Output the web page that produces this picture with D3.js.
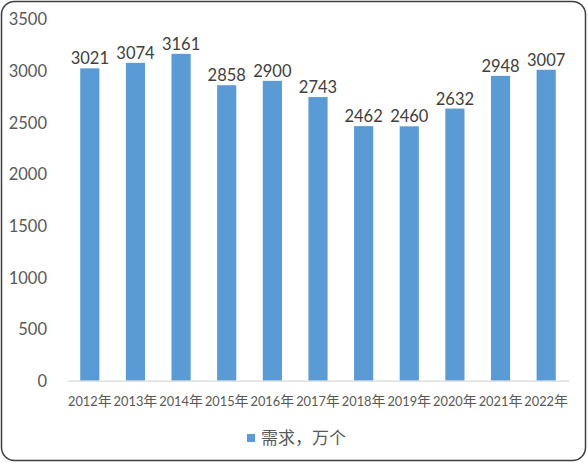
<!DOCTYPE html>
<html>
<head>
<meta charset="utf-8">
<script src="https://cdn.jsdelivr.net/npm/d3@7/dist/d3.min.js"></script>
<style>
  html, body { margin: 0; padding: 0; background: #fff; }
  svg { display: block; }
</style>
</head>
<body>
<svg id="chart" width="588" height="463"></svg>
<script>
const years = ["2012", "2013", "2014", "2015", "2016", "2017", "2018", "2019", "2020", "2021", "2022"];
const yearSuffix = "年";
const demand = [3021, 3074, 3161, 2858, 2900, 2743, 2462, 2460, 2632, 2948, 3007];
const yTicks = [0, 500, 1000, 1500, 2000, 2500, 3000, 3500];
const seriesName = "需求，万个";

const W = 588, H = 463;
const plot = { left: 67, right: 569, top: 18.8, bottom: 380.7 };
const barColor = "#5B9BD5";
const textColor = "#595959";
const digitFont = "Lato, 'Noto Sans', sans-serif";
const cjkFont = "'Noto Sans CJK SC', sans-serif";

const svg = d3.select("#chart");

svg.append("rect")
  .attr("x", 1.5).attr("y", 1.5)
  .attr("width", W - 4).attr("height", H - 4)
  .attr("rx", 13).attr("ry", 13)
  .attr("fill", "#fff")
  .attr("stroke", "#3f3f3f")
  .attr("stroke-width", 1.5);

const x = d3.scaleBand()
  .domain(years)
  .range([plot.left, plot.right])
  .paddingInner(0.58)
  .paddingOuter(0.29);

const y = d3.scaleLinear()
  .domain([0, 3500])
  .range([plot.bottom, plot.top]);

// Y axis (labels only)
const yAxis = d3.axisLeft(y).tickValues(yTicks).tickSize(0).tickPadding(0).tickFormat(d3.format("d"));
const yg = svg.append("g")
  .attr("transform", `translate(47,0)`)
  .call(yAxis);
yg.select(".domain").remove();
yg.selectAll("text")
  .attr("fill", textColor)
  .style("font-family", digitFont)
  .style("font-size", "16.5px")
  .attr("dy", "0.36em");

// Bars
svg.append("g").selectAll("rect")
  .data(demand)
  .join("rect")
  .attr("x", (d, i) => x(years[i]))
  .attr("y", d => y(d))
  .attr("width", x.bandwidth())
  .attr("height", d => y(0) - y(d))
  .attr("fill", barColor);

// X axis
const xAxis = d3.axisBottom(x).tickSize(0).tickPadding(0).tickFormat(d => d);
const xg = svg.append("g")
  .attr("transform", `translate(0,${plot.bottom})`)
  .call(xAxis);
xg.select(".domain")
  .attr("stroke", "#d9d9d9")
  .attr("stroke-width", 1.2);
xg.selectAll("text")
  .attr("fill", textColor)
  .attr("y", 25.5)
  .attr("dy", null)
  .style("font-family", digitFont)
  .style("font-size", "12.8px")
  .each(function(d) {
    const t = d3.select(this);
    t.text(null);
    t.append("tspan").text(d);
    t.append("tspan")
      .style("font-family", cjkFont)
      .style("font-size", "14px")
      .text(yearSuffix);
  });

// Data labels
svg.append("g").selectAll("text")
  .data(demand)
  .join("text")
  .attr("x", (d, i) => x(years[i]) + x.bandwidth() / 2)
  .attr("y", d => y(d) - 4)
  .attr("text-anchor", "middle")
  .attr("fill", "#404040")
  .style("font-family", digitFont)
  .style("font-size", "16.5px")
  .text(d => d);

// Legend
const lg = svg.append("g");
lg.append("rect")
  .attr("x", 247).attr("y", 434)
  .attr("width", 8).attr("height", 8)
  .attr("fill", barColor);
lg.append("text")
  .attr("x", 261).attr("y", 443.5)
  .attr("fill", textColor)
  .style("font-family", cjkFont)
  .style("font-size", "17px")
  .text(seriesName);
</script>
</body>
</html>
